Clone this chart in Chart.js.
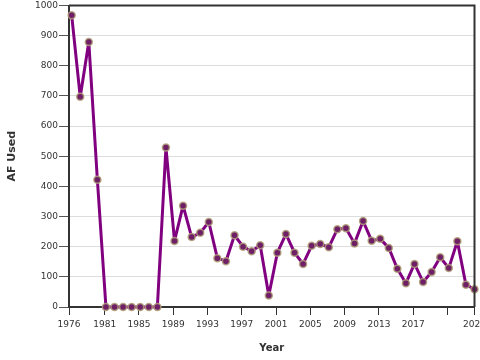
<!DOCTYPE html>
<html lang="en">
<head>
    <meta charset="UTF-8">
    <title>AF Used by Year</title>
    <script src="https://cdn.jsdelivr.net/npm/chart.js"></script>
    <style>
        html, body { margin: 0; padding: 0; background: #fff; }
        #wrap { width: 480px; height: 360px; }
    </style>
</head>
<body>
    <div id="wrap"><canvas id="myChart" width="480" height="360"></canvas></div>
    <script>

const years = [1977, 1978, 1979, 1980, 1981, 1982, 1983, 1984, 1985, 1986, 1987, 1988,
               1989, 1990, 1991, 1992, 1993, 1994, 1995, 1996, 1997, 1998, 1999, 2000,
               2001, 2002, 2003, 2004, 2005, 2006, 2007, 2008, 2009, 2010, 2011, 2012,
               2013, 2014, 2015, 2016, 2017, 2018, 2019, 2020, 2021, 2022, 2023, 2024]
const afUsed = [968, 697, 879, 422, 0, 0, 0, 0, 0, 0, 0, 529,
                219, 336, 232, 246, 282, 162, 152, 238, 200, 185, 205, 38,
                180, 242, 180, 143, 203, 209, 198, 258, 261, 211, 285, 220,
                226, 196, 127, 79, 143, 83, 116, 165, 129, 218, 74, 59]

// x axis ticks (year starts), labels as shown on the original
const tickYears  = [1976.84, 1981, 1985, 1989, 1993, 1997, 2001, 2005, 2009, 2013, 2017, 2021, 2024.15]
const tickLabels = ['1976', '1981', '1985', '1989', '1993', '1997', '2001', '2005', '2009', '2013', '2017', '', '2024']
const yTicks = [0, 100, 200, 300, 400, 500, 600, 700, 800, 900, 1000]

// points sit a little into each year
const points = years.map((y, i) => ({x: y + 0.15, y: afUsed[i]}))

const frame = {
    id: 'frame',
    afterDraw(chart) {
        const {ctx, chartArea: a} = chart
        ctx.save()
        ctx.strokeStyle = '#333'
        ctx.lineWidth = 2
        ctx.beginPath()
        ctx.moveTo(a.left, a.top)
        ctx.lineTo(a.right, a.top)
        ctx.lineTo(a.right, a.bottom)
        ctx.stroke()
        ctx.restore()
    }
}

const ctx = document.getElementById('myChart').getContext('2d')
const myChart = new Chart(ctx, {
    type: 'line',
    data: {
        datasets: [{
            data: points,
            borderColor: '#800080',
            borderWidth: 3,
            borderJoinStyle: 'round',
            pointRadius: 3.5,
            pointBackgroundColor: '#6e1f66',
            pointBorderColor: 'rgba(175,160,120,0.85)',
            pointBorderWidth: 1.5,
            tension: 0,
            clip: 8
        }]
    },
    options: {
        responsive: false,
        animation: false,
        layout: { padding: { top: 4, right: 5, left: 0, bottom: 0 } },
        plugins: { legend: { display: false }, tooltip: { enabled: false } },
        scales: {
            x: {
                type: 'linear',
                min: 1976.84,
                max: 2024.15,
                afterBuildTicks: (s) => { s.ticks = tickYears.map(v => ({value: v})) },
                afterFit: (s) => { s.height = 53; s.paddingLeft = 0; s.paddingRight = 0 },
                ticks: {
                    autoSkip: false,
                    maxRotation: 0,
                    padding: 4,
                    color: '#333',
                    font: { family: 'DejaVu Sans', size: 9 },
                    callback: (v, i) => tickLabels[i]
                },
                grid: { drawOnChartArea: false, tickLength: 8, tickColor: '#333', lineWidth: 1 },
                border: { color: '#333', width: 2 },
                title: {
                    display: true, text: 'Year', color: '#333',
                    font: { family: 'DejaVu Sans', size: 10, weight: 'bold' },
                    padding: { top: 4, bottom: 6 }
                }
            },
            y: {
                min: 0,
                max: 1000,
                afterBuildTicks: (s) => { s.ticks = yTicks.map(v => ({value: v})) },
                afterFit: (s) => { s.width = 69; s.paddingTop = 0; s.paddingBottom = 0 },
                ticks: {
                    padding: 1,
                    color: '#333',
                    font: { family: 'DejaVu Sans', size: 9 },
                    callback: (v) => String(v)
                },
                grid: { color: '#ddd', tickColor: '#555', tickLength: 10, lineWidth: 1 },
                border: { color: '#333', width: 2 },
                title: {
                    display: true, text: 'AF Used', color: '#333',
                    font: { family: 'DejaVu Sans', size: 11, weight: 'bold' },
                    padding: { top: 6, bottom: 0 }
                }
            }
        }
    },
    plugins: [frame]
})
    </script>
</body>
</html>
